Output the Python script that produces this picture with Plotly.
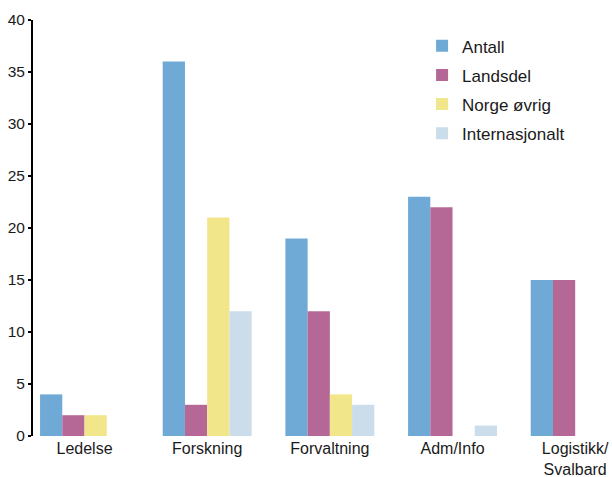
import plotly.graph_objects as go

categories = ["Ledelse", "Forskning", "Forvaltning", "Adm/Info", "Logistikk/<br>Svalbard"]
series_names = ["Antall", "Landsdel", "Norge øvrig", "Internasjonalt"]
antall = [4, 36, 19, 23, 15]
landsdel = [2, 3, 12, 22, 15]
norge_ovrig = [2, 21, 4, 0, 0]
internasjonalt = [0, 12, 3, 1, 0]
y_ticks = [0, 5, 10, 15, 20, 25, 30, 35, 40]

colors = ["#6faad6", "#b56896", "#f1e68a", "#cbdcea"]
values = [antall, landsdel, norge_ovrig, internasjonalt]

fig = go.Figure()
for name, vals, col in zip(series_names, values, colors):
    fig.add_trace(go.Bar(x=categories, y=vals, name=name, marker_color=col,
                         marker_line_width=0, legendgroup=name))

fig.update_layout(
    width=612, height=477,
    margin=dict(l=33, r=0, t=20, b=41),
    paper_bgcolor="white", plot_bgcolor="white",
    barmode="group", bargap=0.275, bargroupgap=0,
    font=dict(family="Liberation Sans, Arial, sans-serif", size=16, color="#1a1a1a"),
    showlegend=True,
    legend=dict(x=0.672, y=0.98, xanchor="left", yanchor="top",
                font=dict(size=17), tracegroupgap=4, bgcolor="rgba(0,0,0,0)"),
)
fig.update_xaxes(type="category", range=[-0.42, 4.30], showline=False, ticks="",
                 showgrid=False, zeroline=False, ticklabelstandoff=1,
                 tickfont=dict(size=16))
fig.update_yaxes(range=[0, 40], tickvals=y_ticks, showline=True, linecolor="black",
                 linewidth=2, ticks="outside", ticklen=3, tickcolor="black", tickwidth=1.5,
                 showgrid=False, zeroline=False, tickfont=dict(size=15.5))

fig.write_html("out.html")
